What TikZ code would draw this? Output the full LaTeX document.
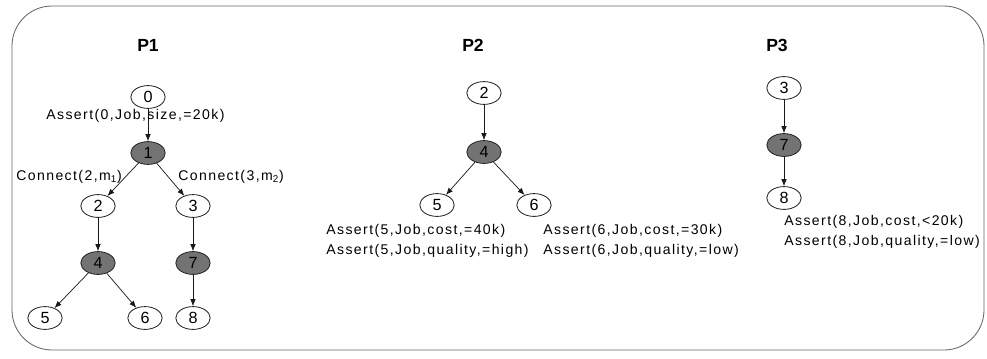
\documentclass[tikz,border=0pt]{standalone}
\usepackage{fontspec}
\setmainfont{Liberation Sans}
\newfontfamily\lblfont[LetterSpace=10]{Liberation Sans}
\usetikzlibrary{shapes,arrows.meta}

\begin{document}
\begin{tikzpicture}
  [x=0.025cm,y=-0.025cm,
   st/.style={ellipse,draw=black!85,line width=0.6pt,fill=white,minimum width=0.86cm,minimum height=0.57cm,inner sep=0pt,font=\fontsize{11.5}{12}\selectfont},
   sel/.style={st,fill=black!55},
   lbl/.style={inner sep=0pt,align=left,anchor=west,font=\fontsize{10}{14}\lblfont},
   ttl/.style={inner sep=0pt,font=\fontsize{12.5}{14}\selectfont\bfseries},
   edge/.style={-{Latex[length=5pt,width=4pt]},black!90,line width=0.5pt}]
  \useasboundingbox (0,0) rectangle (987,358);
  \draw[black!60,line width=0.6pt,rounded corners=1cm] (12,6) rectangle (984,350);

  % P1
  \node[ttl] (t1) at (148,45) {P1};
  \node[st]  (a0) at (148,97) {0};
  \node[sel] (a1) at (148,153) {1};
  \node[st]  (a2) at (98,206) {2};
  \node[st]  (a3) at (193,206) {3};
  \node[sel] (a4) at (98,263) {4};
  \node[sel] (a7) at (193,263) {7};
  \node[st]  (a5) at (45,318) {5};
  \node[st]  (a6) at (145,318) {6};
  \node[st]  (a8) at (193,318) {8};
  \foreach \from/\to in {a0/a1,a1/a2,a1/a3,a2/a4,a3/a7,a4/a5,a4/a6,a7/a8}
   \draw[edge] (\from) -- (\to);
  \node[lbl] (l0) at (46,116) {Assert(0,Job,size,=20k)};
  \node[lbl] (l1) at (16,177) {Connect(2,m\textsubscript{1})};
  \node[lbl] (l2) at (178,177) {Connect(3,m\textsubscript{2})};

  % P2
  \node[ttl] (t2) at (473,45) {P2};
  \node[st]  (b2) at (484,93) {2};
  \node[sel] (b4) at (484,152) {4};
  \node[st]  (b5) at (437,205) {5};
  \node[st]  (b6) at (534,205) {6};
  \foreach \from/\to in {b2/b4,b4/b5,b4/b6}
   \draw[edge] (\from) -- (\to);
  \node[lbl] (l5) at (326,241) {Assert(5,Job,cost,=40k)\\Assert(5,Job,quality,=high)};
  \node[lbl] (l6) at (543,241) {Assert(6,Job,cost,=30k)\\Assert(6,Job,quality,=low)};

  % P3
  \node[ttl] (t3) at (777,45) {P3};
  \node[st]  (c3) at (784,88) {3};
  \node[sel] (c7) at (784,145) {7};
  \node[st]  (c8) at (784,198) {8};
  \foreach \from/\to in {c3/c7,c7/c8}
   \draw[edge] (\from) -- (\to);
  \node[lbl] (l8) at (784,232) {Assert(8,Job,cost,<20k)\\Assert(8,Job,quality,=low)};
\end{tikzpicture}
\end{document}
